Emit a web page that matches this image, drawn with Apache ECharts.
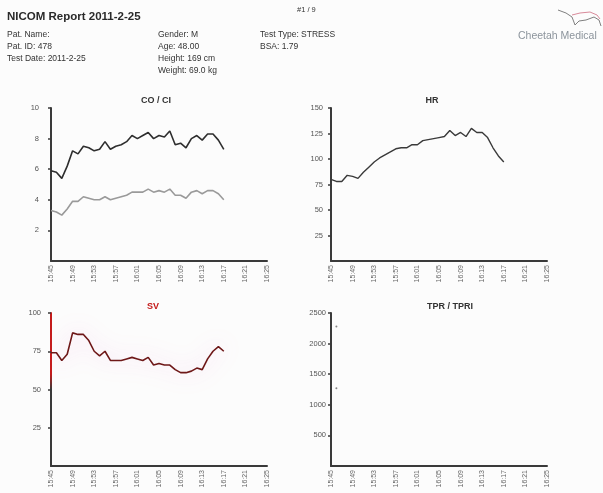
<!DOCTYPE html>
<html>
<head>
<meta charset="utf-8">
<script src="https://cdn.jsdelivr.net/npm/echarts@6/dist/echarts.min.js"></script>
<style>
  html, body { margin: 0; padding: 0; background: #fcfcfc; }
  #main { width: 603px; height: 493px; }
</style>
</head>
<body>
<div id="main"></div>
<script>
// x axis tick labels (every 4 minutes)
var tickLabels = ['15:45', '15:49', '15:53', '15:57', '16:01', '16:05', '16:09', '16:13', '16:17', '16:21', '16:25'];

// sample times
var sampleTimes = ['15:45', '15:46', '15:47', '15:48', '15:49', '15:50', '15:51', '15:52', '15:53', '15:54',
    '15:55', '15:56', '15:57', '15:58', '15:59', '16:00', '16:01', '16:02', '16:03', '16:04',
    '16:05', '16:06', '16:07', '16:08', '16:09', '16:10', '16:11', '16:12', '16:13', '16:14',
    '16:15', '16:16', '16:17'];

var coValues = [5.9, 5.8, 5.4, 6.2, 7.2, 7.0, 7.5, 7.4, 7.2, 7.3, 7.8, 7.3, 7.5, 7.6, 7.8, 8.2, 8.0,
    8.2, 8.4, 8.0, 8.2, 8.1, 8.5, 7.6, 7.7, 7.4, 8.0, 8.2, 7.9, 8.3, 8.3, 7.9, 7.3];
var ciValues = [3.3, 3.2, 3.0, 3.4, 3.9, 3.9, 4.2, 4.1, 4.0, 4.0, 4.2, 4.0, 4.1, 4.2, 4.3, 4.5, 4.5,
    4.5, 4.7, 4.5, 4.6, 4.5, 4.7, 4.3, 4.3, 4.1, 4.5, 4.6, 4.4, 4.6, 4.6, 4.4, 4.0];
var hrValues = [80, 78, 78, 84, 83, 81, 87, 92, 97, 101, 104, 107, 110, 111, 111, 114, 114,
    118, 119, 120, 121, 122, 128, 123, 126, 122, 130, 126, 126, 121, 111, 103, 97];
var svValues = [74, 74, 69, 73, 87, 86, 86, 82, 75, 72, 75, 69, 69, 69, 70, 71, 70,
    69, 71, 66, 67, 66, 66, 63, 61, 61, 62, 64, 63, 70, 75, 78, 75];

var tprTimes = ['15:46'];
var tprValues = [2280];
var tpriValues = [1270];

function toMin(t) {
    var p = t.split(':');
    return (+p[0]) * 60 + (+p[1]) - (15 * 60 + 45);
}
function pairs(times, vals) {
    return vals.map(function (v, i) { return [toMin(times[i]), v]; });
}

var font = 'Liberation Sans';
var grids = [
    { left: 51, top: 108, width: 216, height: 153 },
    { left: 331, top: 108, width: 216, height: 153 },
    { left: 51, top: 313, width: 216, height: 153 },
    { left: 331, top: 313, width: 216, height: 153 }
];

function xAx(i) {
    return {
        gridIndex: i, type: 'value', min: 0, max: 40, interval: 4,
        axisLine: { lineStyle: { color: '#3a3a3a', width: 2 } },
        axisTick: { show: false },
        splitLine: { show: false },
        axisLabel: {
            rotate: 90, fontSize: 7, color: '#666', fontFamily: font, margin: 4,
            formatter: function (v) { return tickLabels[v / 4]; }
        }
    };
}
function yAx(i, max, interval, lineColor, margin) {
    return {
        gridIndex: i, type: 'value', min: 0, max: max, interval: interval,
        axisLine: { show: true, lineStyle: { color: lineColor || '#3a3a3a', width: 2 } },
        axisTick: { show: true, length: 3, lineStyle: { color: '#3a3a3a', width: 1.5 } },
        splitLine: { show: false },
        axisLabel: {
            showMinLabel: false, fontSize: 7.5, color: '#555', fontFamily: font, margin: margin || 10,
            formatter: function (v) { return String(v); }
        }
    };
}

var svAxisColor = new echarts.graphic.LinearGradient(0, 0, 0, 1, [
    { offset: 0, color: '#c41a1a' }, { offset: 0.4, color: '#c41a1a' },
    { offset: 0.5, color: '#3a3a3a' }, { offset: 1, color: '#3a3a3a' }
]);

var hdr = { fontSize: 8.5, fill: '#333', fontFamily: font };
function txt(x, y, s, extra) {
    var st = Object.assign({ text: s }, hdr, extra || {});
    return { type: 'text', left: x, top: y, style: st };
}
var ttl = { fontSize: 9, fontWeight: 'bold', color: '#333', fontFamily: font };

var option = {
    backgroundColor: '#fcfcfc',
    animation: false,
    title: [
        { text: 'CO / CI', left: 151, top: 91, textAlign: 'center', textStyle: ttl },
        { text: 'HR', left: 427, top: 91, textAlign: 'center', textStyle: ttl },
        { text: 'SV', left: 148, top: 297, textAlign: 'center', textStyle: Object.assign({}, ttl, { color: '#c41a1a' }) },
        { text: 'TPR / TPRI', left: 445, top: 297, textAlign: 'center', textStyle: ttl }
    ],
    grid: grids,
    xAxis: [xAx(0), xAx(1), xAx(2), xAx(3)],
    yAxis: [yAx(0, 10, 2, null, 12), yAx(1, 150, 25, null, 8), yAx(2, 100, 25, svAxisColor, 10), yAx(3, 2500, 500, null, 5)],
    series: [
        { name: 'CO', type: 'line', xAxisIndex: 0, yAxisIndex: 0, data: pairs(sampleTimes, coValues),
          symbol: 'none', lineStyle: { color: '#2e2e2e', width: 1.6 } },
        { name: 'CI', type: 'line', xAxisIndex: 0, yAxisIndex: 0, data: pairs(sampleTimes, ciValues),
          symbol: 'none', lineStyle: { color: '#9a9a9a', width: 1.6 } },
        { name: 'HR', type: 'line', xAxisIndex: 1, yAxisIndex: 1, data: pairs(sampleTimes, hrValues),
          symbol: 'none', lineStyle: { color: '#3a3a3a', width: 1.4 } },
        { name: 'SV', type: 'line', xAxisIndex: 2, yAxisIndex: 2, data: pairs(sampleTimes, svValues),
          symbol: 'none', lineStyle: { color: '#6e1818', width: 1.6, shadowBlur: 22, shadowColor: 'rgba(240,120,210,0.6)' } },
        { name: 'TPR', type: 'scatter', xAxisIndex: 3, yAxisIndex: 3, data: pairs(tprTimes, tprValues),
          symbolSize: 2, itemStyle: { color: '#666' } },
        { name: 'TPRI', type: 'scatter', xAxisIndex: 3, yAxisIndex: 3, data: pairs(tprTimes, tpriValues),
          symbolSize: 2, itemStyle: { color: '#666' } }
    ],
    graphic: [
        txt(7, 11, 'NICOM Report 2011-2-25', { fontSize: 11.5, fontWeight: 'bold', fill: '#2a2a2a' }),
        txt(297, 6, '#1 / 9', { fontSize: 7.5 }),
        txt(7, 30, 'Pat. Name:'),
        txt(7, 42, 'Pat. ID: 478'),
        txt(7, 54, 'Test Date: 2011-2-25'),
        txt(158, 30, 'Gender: M'),
        txt(158, 42, 'Age: 48.00'),
        txt(158, 54, 'Height: 169 cm'),
        txt(158, 66, 'Weight: 69.0 kg'),
        txt(260, 30, 'Test Type: STRESS'),
        txt(260, 42, 'BSA: 1.79'),
        txt(518, 31, 'Cheetah Medical', { fontSize: 10.5, fill: '#8c949c' }),
        { type: 'polyline', shape: { points: [[558, 10], [566, 13], [572, 17], [575, 25], [579, 21], [586, 20], [594, 17], [599, 20], [601, 26]] },
          style: { stroke: '#808080', lineWidth: 1, fill: null } },
        { type: 'polyline', shape: { points: [[572, 15], [580, 13], [590, 12], [597, 15], [600, 19]] },
          style: { stroke: '#d98a9a', lineWidth: 1, fill: null } }
    ]
};

var chart = echarts.init(document.getElementById('main'));
chart.setOption(option);
</script>
</body>
</html>
